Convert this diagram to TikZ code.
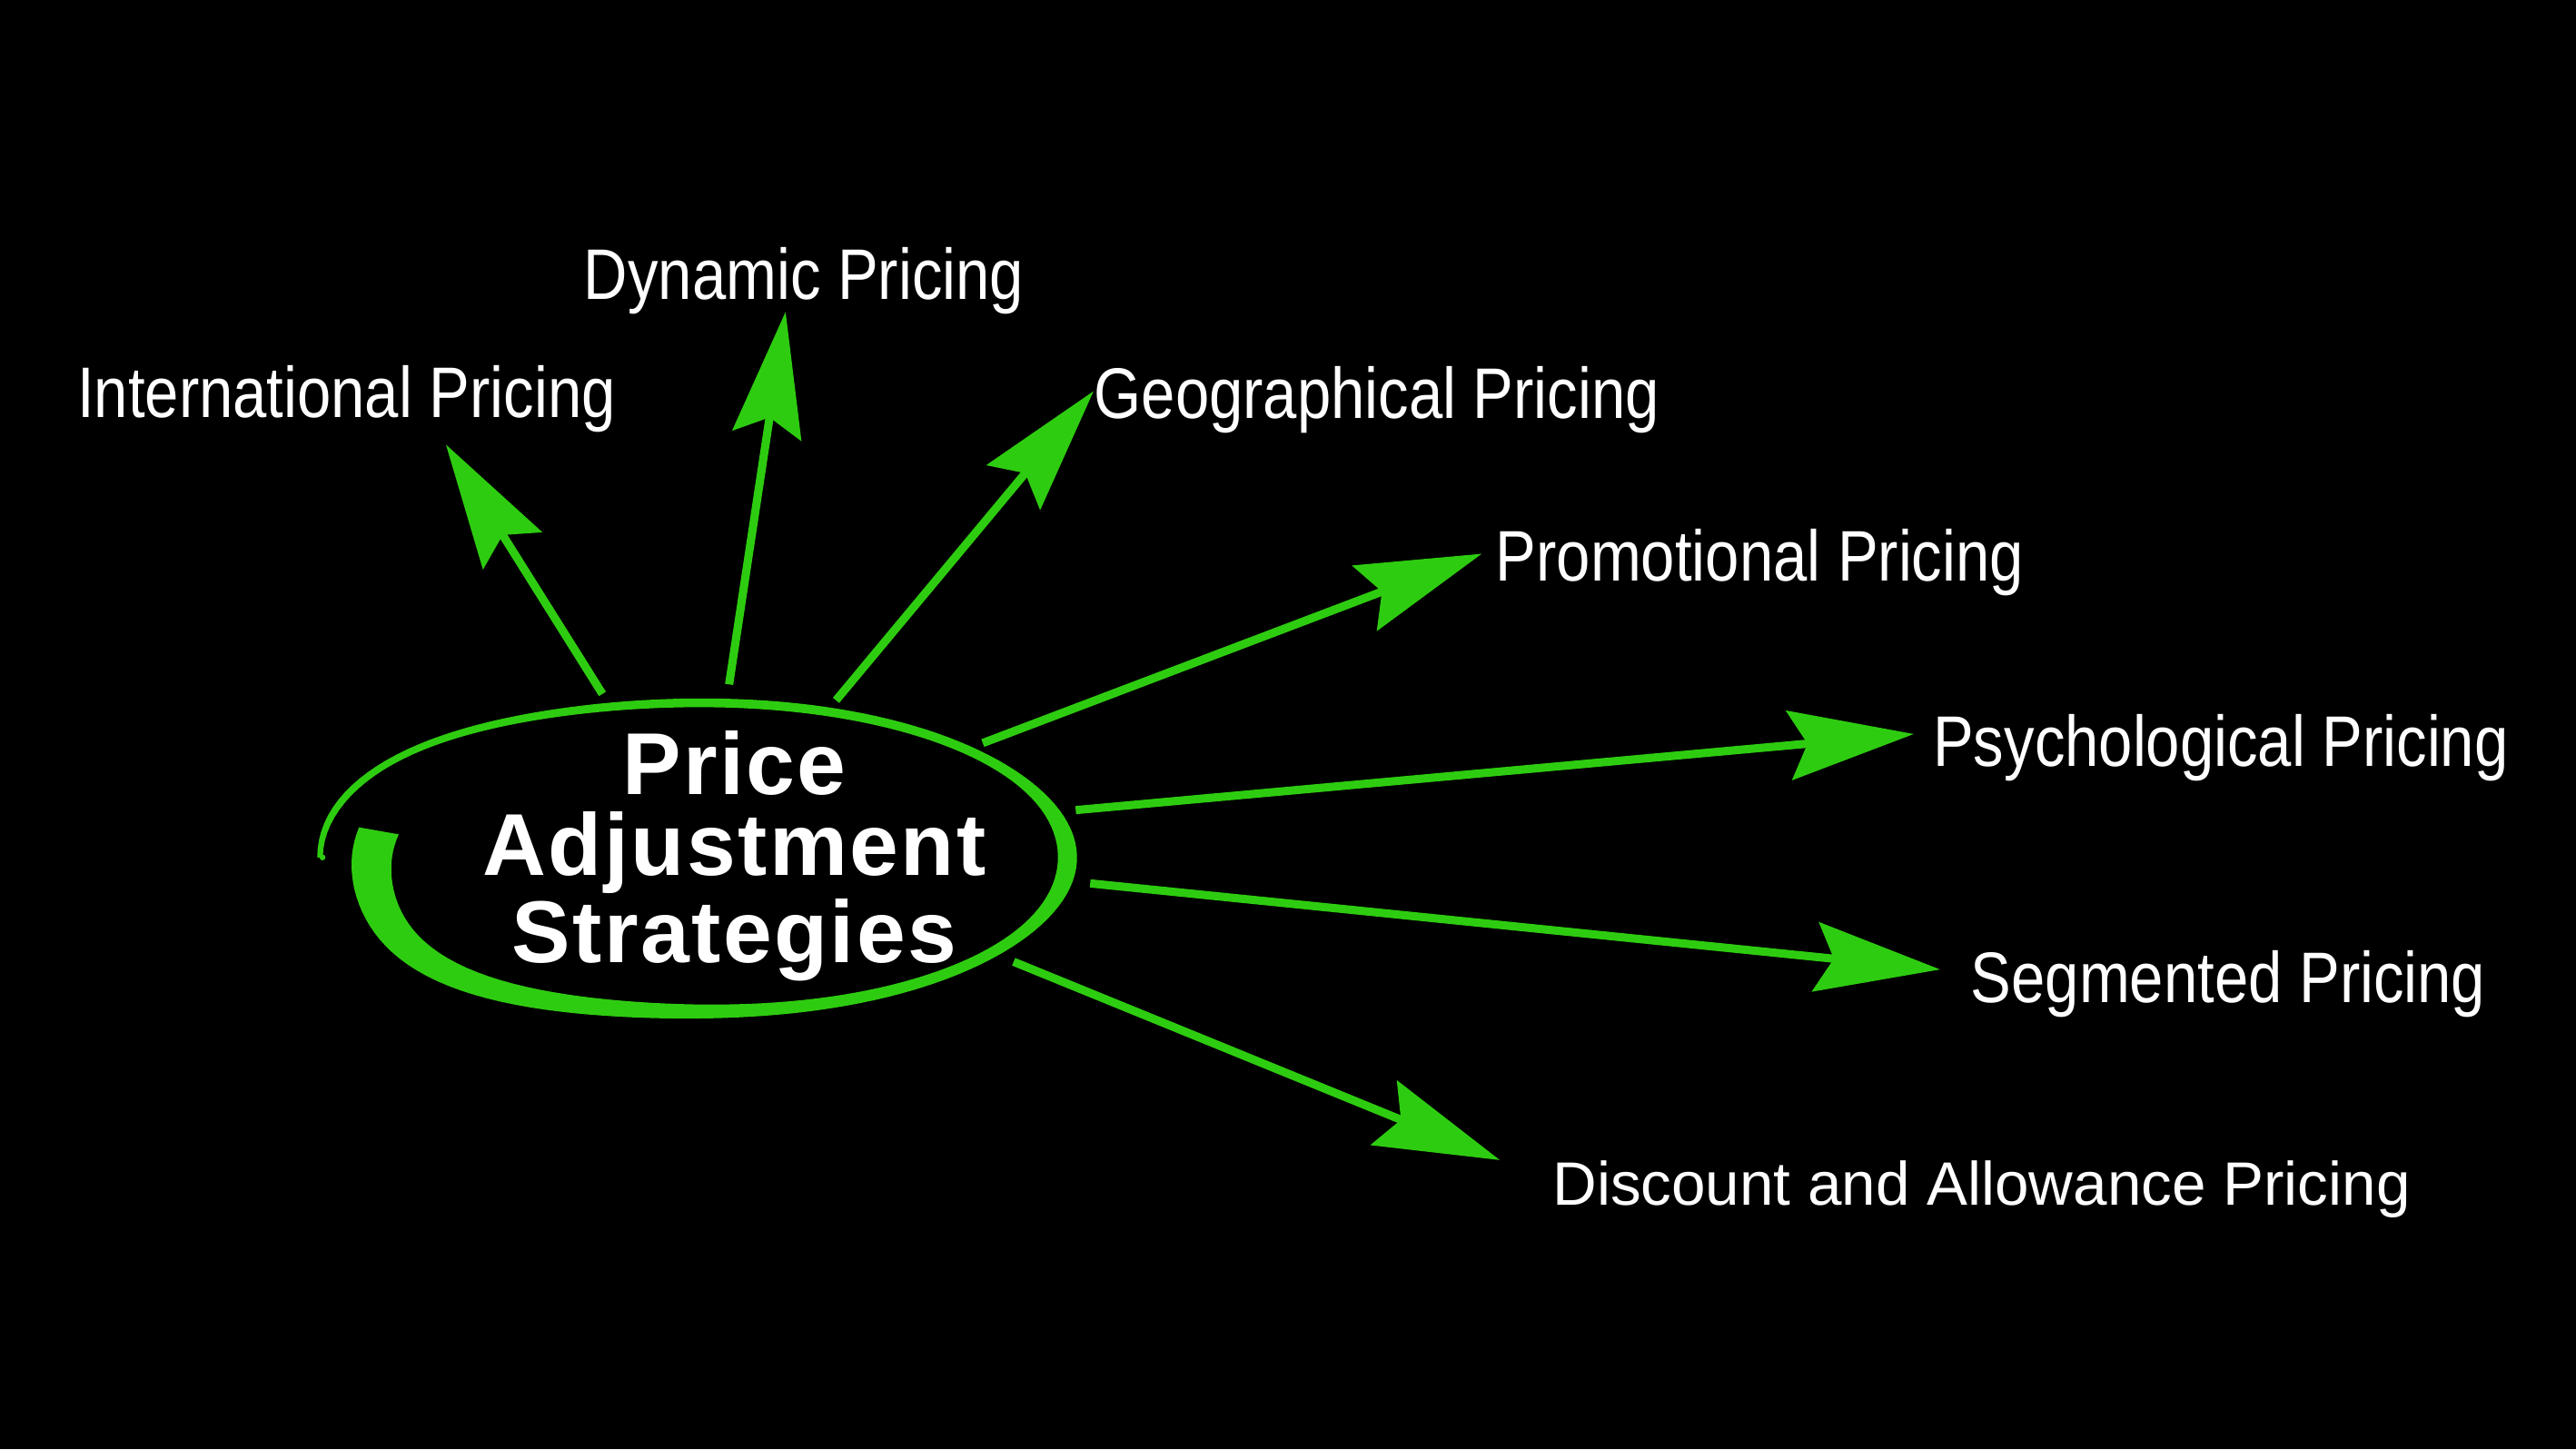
\documentclass[tikz,border=0pt]{standalone}
\usepackage{fontspec}
\usetikzlibrary{arrows.meta}
\newfontfamily\labelfont{Liberation Sans}[FakeStretch=0.85]
\newfontfamily\plainfont{Liberation Sans}
\newfontfamily\corefont{Liberation Sans}[LetterSpace=2.5]
\definecolor{brush}{RGB}{46,204,16}
\tikzset{
    lbl/.style={text=white,inner sep=0pt,anchor=base west,font=\labelfont\fontsize{12.4}{14}\selectfont},
    arr/.style={draw=brush,line width=0.05cm,-{Stealth[length=0.76cm,width=0.42cm,inset=0.11cm]}},
    declare function={
      gs(\a,\m,\d)=exp(-min(((\a-\m)/\d)*((\a-\m)/\d),20));
      tl(\a)=33*gs(\a,0,48);
      bu(\a)=1+0.09*gs(\a,315,28);
      wd(\a)=4.6+\a/120+5.5*gs(\a,180,25)+17*gs(\a,365,60)-1.2*gs(\a,0,12);
      ra(\a)=bu(\a)*(211+tl(\a));
      rb(\a)=bu(\a)*(93+tl(\a));
    },
  }
\begin{document}
\begin{tikzpicture}[x=0.01cm,y=-0.01cm]
			          %FOND
			          \fill[black] (0,0) rectangle (1568,882);
			          %ELLIPSE (trait de pinceau, bord exterieur puis bord interieur)
			          \fill[brush] plot[domain=0:370,samples=160,variable=\s] ({438.8-(ra(\s)+wd(\s)/2)*cos(\s)},{521.8-(rb(\s)+wd(\s)/2)*sin(\s)})
			            -- plot[domain=370:0,samples=160,variable=\s] ({438.8-(ra(\s)-wd(\s)/2)*cos(\s)},{521.8-(rb(\s)-wd(\s)/2)*sin(\s)}) -- cycle;
			          \fill[brush] (196.3,521.8) circle[radius=1.8];
			          %TITRE
			          \node[text=white,align=center,inner sep=0pt,font=\corefont\bfseries\fontsize{15.2}{14}\selectfont] (core) at (447,521) {Price\\Adjustment\\Strategies};
			          %ETIQUETTES
			          \node[lbl] (intl) at (46.4,254.3) {International Pricing};
			          \node[lbl] (dyn) at (354.8,182.4) {Dynamic Pricing};
			          \node[lbl] (geo) at (665.3,254.5) {Geographical Pricing};
			          \node[lbl] (promo) at (909.8,353.8) {Promotional Pricing};
			          \node[lbl] (psych) at (1176,466.3) {Psychological Pricing};
			          \node[lbl] (seg) at (1199,610.2) {Segmented Pricing};
			          \node[lbl,font=\plainfont\fontsize{10.6}{12}\selectfont] (disc) at (944.4,733.5) {Discount and Allowance Pricing};
			          %FLECHES
			          \coordinate (intl-s) at (366.7,422.3);
			          \coordinate (intl-t) at (271.4,270.5);
			          \coordinate (dyn-s) at (443.8,416.5);
			          \coordinate (dyn-t) at (478.2,189.7);
			          \coordinate (geo-s) at (508.9,426.2);
			          \coordinate (geo-t) at (665.7,238);
			          \coordinate (promo-s) at (598.2,452.2);
			          \coordinate (promo-t) at (902,337);
			          \coordinate (psych-s) at (654.8,493);
			          \coordinate (psych-t) at (1165,446.7);
			          \coordinate (seg-s) at (663.6,537.6);
			          \coordinate (seg-t) at (1181,590);
			          \coordinate (disc-s) at (617,585.3);
			          \coordinate (disc-t) at (913,706);
			          \draw[arr] (intl-s) -- (intl-t);
			          \draw[arr] (dyn-s) -- (dyn-t);
			          \draw[arr] (geo-s) -- (geo-t);
			          \draw[arr] (promo-s) -- (promo-t);
			          \draw[arr] (psych-s) -- (psych-t);
			          \draw[arr] (seg-s) -- (seg-t);
			          \draw[arr] (disc-s) -- (disc-t);
			          \end{tikzpicture}
\end{document}
